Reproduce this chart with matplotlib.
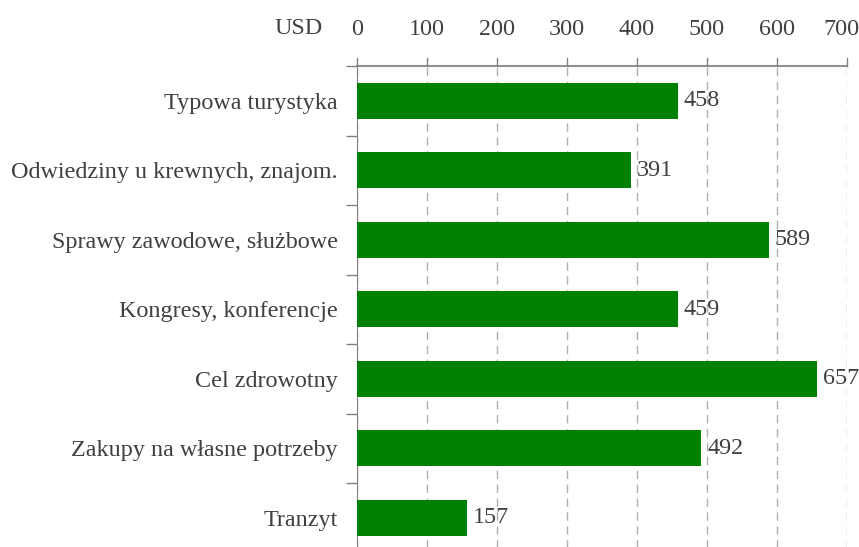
import matplotlib
matplotlib.use("Agg")
import matplotlib.pyplot as plt
import matplotlib.transforms as mtransforms
import numpy as np

categories = ["Typowa turystyka", "Odwiedziny u krewnych, znajom.", "Sprawy zawodowe, służbowe",
              "Kongresy, konferencje", "Cel zdrowotny", "Zakupy na własne potrzeby", "Tranzyt"]
values = [458, 391, 589, 459, 657, 492, 157]
xticks = [0, 100, 200, 300, 400, 500, 600, 700]
unit_label = "USD"

plt.rcParams['font.family'] = ['Liberation Serif', 'DejaVu Serif']
text_color = "#404040"
fs = 17.4

W, H = 859, 547
fig = plt.figure(figsize=(W/100, H/100), dpi=100)
left, right, top = 357, 847, 66
bottom = top + 7 * 69.5
ax = fig.add_axes([left/W, 1 - bottom/H, (right-left)/W, (bottom-top)/H])

y = np.arange(len(categories))
ax.barh(y, values, height=0.52, color="#008000", zorder=3)
for yi, v in zip(y, values):
    ax.text(v + 8, yi, str(v), va="center", ha="left", fontsize=fs, color=text_color)

ax.set_xlim(0, 700)
ax.set_ylim(len(categories) - 0.5, -0.5)
ax.xaxis.tick_top()
ax.set_xticks(xticks)
ax.set_xticklabels([str(t) for t in xticks])
ax.tick_params(axis="x", which="major", direction="in", length=0, pad=18.5, labelsize=fs, labelcolor=text_color)
ax.set_yticks(y)
ax.set_yticklabels(categories)
ax.tick_params(axis="y", which="major", length=0, pad=14, labelsize=fs, labelcolor=text_color)
ax.set_yticks(np.arange(-0.5, len(categories)), minor=True)
ax.tick_params(axis="y", which="minor", length=8, color="#808080", width=1)

# shift last top label left so it fits in the figure
lbls = ax.get_xticklabels()
lbls[-1].set_transform(lbls[-1].get_transform() + mtransforms.ScaledTranslation(-6/100, 0, fig.dpi_scale_trans))

ax.grid(axis="x", color="#b0b0b0", linestyle=(0, (6, 4)), linewidth=1, zorder=0)
for s in ["right", "bottom"]:
    ax.spines[s].set_visible(False)
ax.spines["left"].set_color("#808080")
ax.spines["top"].set_color("#909090")
ax.spines["top"].set_linewidth(1.5)

# top tick marks going up
for t in xticks:
    ax.plot([t, t], [-0.5, -0.5 - 8/69.5], color="#808080", lw=1, clip_on=False, zorder=4)

ax.text(-0.07, 1 + 37/(bottom-top), unit_label, transform=ax.transAxes, ha="right", va="center",
        fontsize=fs, color=text_color)

fig.savefig("out.png", dpi=100)
